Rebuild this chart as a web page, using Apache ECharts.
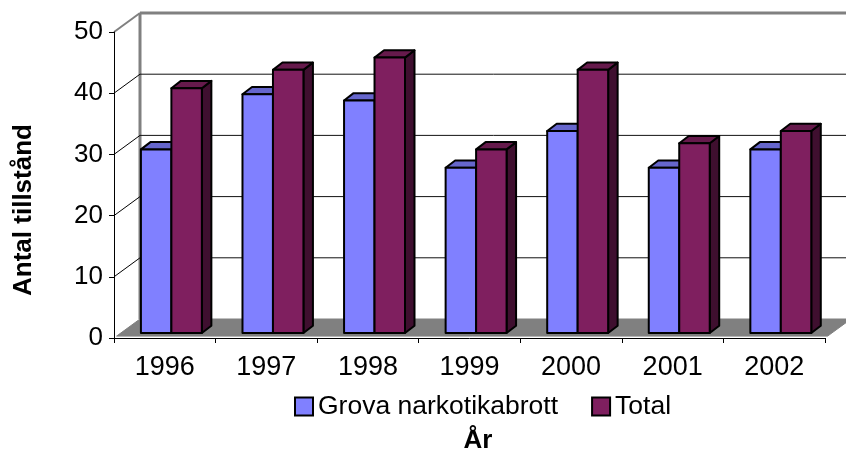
<!DOCTYPE html>
<html>
<head>
<meta charset="utf-8">
<script src="https://cdn.jsdelivr.net/npm/echarts@6/dist/echarts.min.js"></script>
<style>
html,body{margin:0;padding:0;background:#fff;}
#chart{width:846px;height:452px;}
</style>
</head>
<body>
<div id="chart"></div>
<script>
const categories = ['1996','1997','1998','1999','2000','2001','2002'];
const grovaValues = [30, 39, 38, 27, 33, 27, 30];
const totalValues = [40, 43, 45, 30, 43, 31, 33];
const yTicks = [0, 10, 20, 30, 40, 50];
const seriesNames = ['Grova narkotikabrott', 'Total'];
const yTitle = 'Antal tillstånd';
const xTitle = 'År';

const FONT = '"Liberation Sans", Arial, sans-serif';
const BACK_DX = 26, BACK_DY = -19;      // back wall offset
const BAR_FX = 6.6, BAR_FY = -5;        // bar front-face offset from front plane
const BAR_DX = 9.5, BAR_DY = -7.3;      // bar depth
const colorsBlue = {front:'#8080FF', top:'#6666CC', side:'#4D4D99'};
const colorsPurple = {front:'#7F1F5F', top:'#661A4C', side:'#3F0F2F'};

const chart = echarts.init(document.getElementById('chart'), null, {renderer:'canvas'});

function barRenderer(slot, col) {
  return function(params, api) {
    const ci = api.value(0), v = api.value(1);
    const base = api.coord([ci, 0]);
    const top = api.coord([ci, v]);
    const cw = api.size([1, 0])[0];
    const w = cw * 0.3;
    const x = base[0] - w + slot * w + BAR_FX;
    const by = base[1] + BAR_FY;
    const ty = top[1] + BAR_FY;
    const stroke = {stroke:'#000', lineWidth:2, lineJoin:'round'};
    return {
      type:'group',
      children:[
        {type:'polygon', shape:{points:[[x+w,ty],[x+w+BAR_DX,ty+BAR_DY],[x+w+BAR_DX,by+BAR_DY],[x+w,by]]},
          style:Object.assign({fill:col.side}, stroke)},
        {type:'polygon', shape:{points:[[x,ty],[x+w,ty],[x+w+BAR_DX,ty+BAR_DY],[x+BAR_DX,ty+BAR_DY]]},
          style:Object.assign({fill:col.top}, stroke)},
        {type:'rect', shape:{x:x, y:ty, width:w, height:by-ty},
          style:Object.assign({fill:col.front}, stroke)}
      ]
    };
  };
}

function wallRenderer(params, api) {
  const cs = params.coordSys;
  const v = api.value(1);
  const p = api.coord([0, v]);
  const left = cs.x, right = cs.x + cs.width;
  const y = p[1];
  const children = [];
  const isTop = (v === yTicks[yTicks.length-1]);
  const isZero = (v === yTicks[0]);
  if (isZero) {
    const f = 0.1;
    children.push({type:'polygon', shape:{points:[
      [left + BACK_DX*f, y + BACK_DY*f],
      [right + BACK_DX*f, y + BACK_DY*f],
      [right + BACK_DX, y + BACK_DY],
      [left + BACK_DX, y + BACK_DY]]},
      style:{fill:'#808080', stroke:'#808080', lineWidth:1}});
    const yt = api.coord([0, yTicks[yTicks.length-1]])[1];
    children.push({type:'line', shape:{x1:left+BACK_DX, y1:yt+BACK_DY, x2:left+BACK_DX, y2:y+BACK_DY},
      style:{stroke:'#808080', lineWidth:3}});
  } else {
    children.push({type:'line', shape:{x1:left+BACK_DX, y1:y+BACK_DY, x2:right+BACK_DX, y2:y+BACK_DY},
      style:{stroke: isTop ? '#808080' : '#111', lineWidth: isTop ? 3 : 1}});
    children.push({type:'line', shape:{x1:left, y1:y, x2:left+BACK_DX, y2:y+BACK_DY},
      style:{stroke: isTop ? '#808080' : '#000', lineWidth: isTop ? 2 : 1}});
  }
  return {type:'group', children};
}

const option = {
  animation:false,
  backgroundColor:'#fff',
  grid:{left:114, right:21, top:32, bottom:114, containLabel:false},
  xAxis:{
    type:'category', data:categories, boundaryGap:true, z:10,
    axisLine:{show:true, lineStyle:{color:'#000', width:1}},
    axisTick:{show:true, length:5, inside:false, alignWithLabel:false, lineStyle:{color:'#000'}},
    axisLabel:{fontFamily:FONT, fontSize:27, color:'#000', margin:16},
    splitLine:{show:false}
  },
  yAxis:{
    type:'value', min:0, max:50, interval:10, z:10,
    axisLine:{show:true, lineStyle:{color:'#000', width:1}},
    axisTick:{show:true, length:5, inside:false, lineStyle:{color:'#000'}},
    axisLabel:{fontFamily:FONT, fontSize:26, color:'#000', margin:11},
    splitLine:{show:false}
  },
  legend:{
    left:289, top:388, itemWidth:18, itemHeight:18, itemGap:33,
    textStyle:{fontFamily:FONT, fontSize:26.5, color:'#000'},
    data:[
      {name:seriesNames[0], icon:'rect', itemStyle:{color:colorsBlue.front, borderColor:'#000', borderWidth:2}},
      {name:seriesNames[1], icon:'rect', itemStyle:{color:colorsPurple.front, borderColor:'#000', borderWidth:2}}
    ]
  },
  graphic:[
    {type:'text', x:24, y:210, rotation:Math.PI/2,
      style:{text:yTitle, font:'bold 26px ' + FONT, fill:'#000', textAlign:'center', textVerticalAlign:'middle'}},
    {type:'text', x:478, y:441,
      style:{text:xTitle, font:'bold 26px ' + FONT, fill:'#000', textAlign:'center', textVerticalAlign:'middle'}}
  ],
  series:[
    {type:'custom', name:'wall', z:1, silent:true, renderItem:wallRenderer,
      data: yTicks.map(v => [0, v])},
    {type:'custom', name:seriesNames[0], z:3, renderItem:barRenderer(0, colorsBlue),
      itemStyle:{color:colorsBlue.front},
      data: grovaValues.map((v,i) => [i, v])},
    {type:'custom', name:seriesNames[1], z:4, renderItem:barRenderer(1, colorsPurple),
      itemStyle:{color:colorsPurple.front},
      data: totalValues.map((v,i) => [i, v])}
  ]
};
chart.setOption(option);
</script>
</body>
</html>
